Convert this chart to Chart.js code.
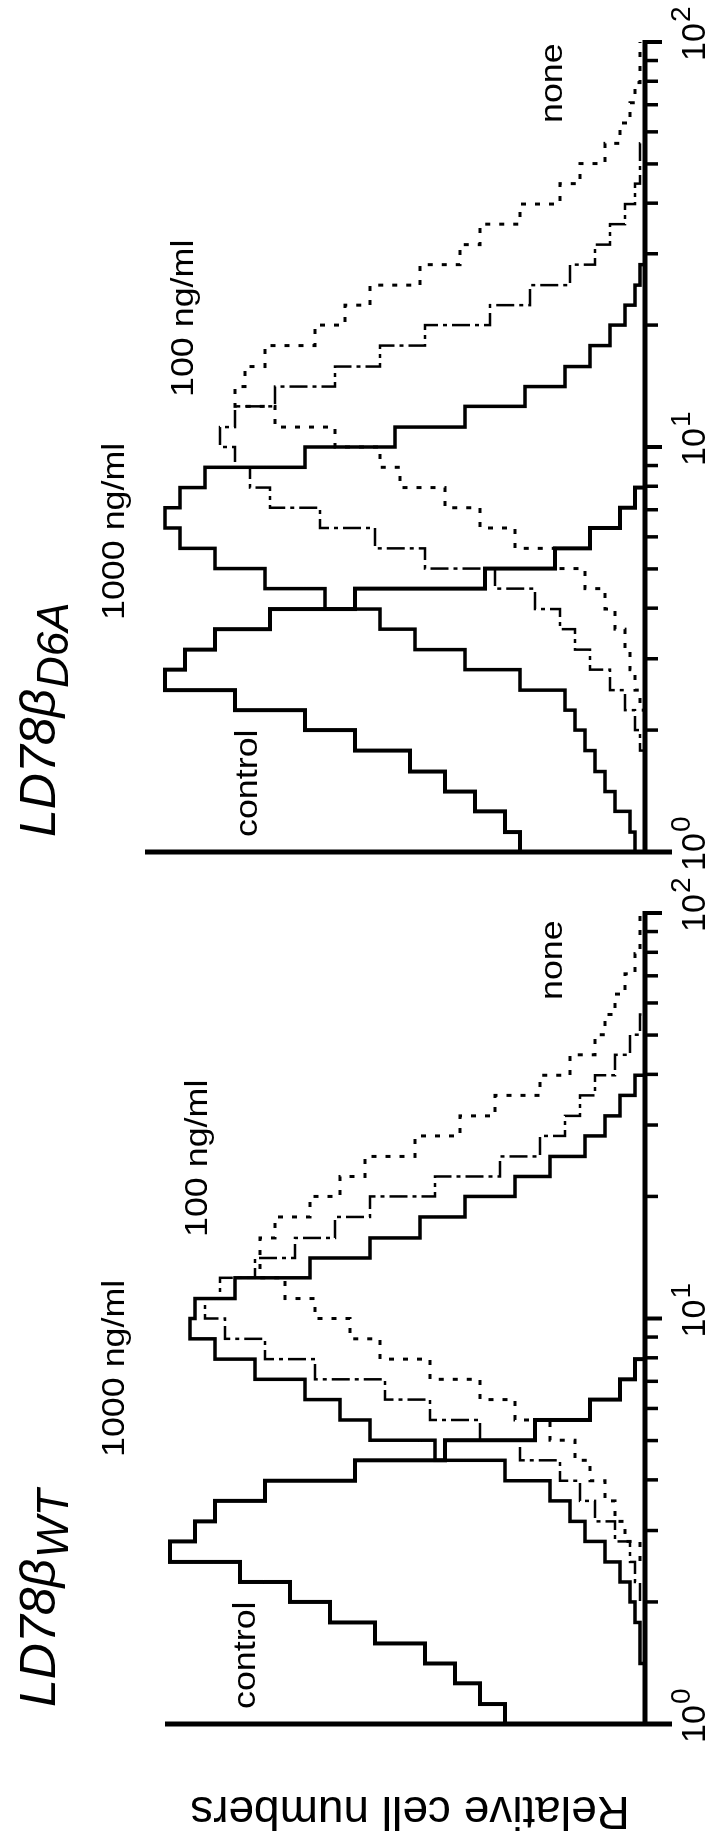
<!DOCTYPE html>
<html>
<head>
<meta charset="utf-8">
<script src="https://cdn.jsdelivr.net/npm/chart.js@4.4.1/dist/chart.umd.min.js"></script>
<style>
  html, body { margin: 0; padding: 0; background: #fff; overflow: hidden; }
  /* the figure is laid out landscape and turned a quarter turn to the left */
  #fig { position: absolute; left: 0; top: 0; width: 1847px; height: 709px;
         transform-origin: 0 0; transform: translate(0, 1847px) rotate(-90deg); }
  #fig canvas { position: absolute; top: 0; }
</style>
</head>
<body>
<div id="fig">
  <canvas id="wt" width="990" height="709" style="left:0px"></canvas>
  <canvas id="d6a" width="907" height="709" style="left:940px"></canvas>
</div>
<script>
// fluorescence channels (left edge of each bin), shared by both panels
var channels = [1.00, 1.12, 1.26, 1.41, 1.58, 1.78, 2.00, 2.24, 2.51, 2.82,
                3.16, 3.55, 3.98, 4.47, 5.01, 5.62, 6.31, 7.08, 7.94, 8.91,
                10.0, 11.2, 12.6, 14.1, 15.8, 17.8, 20.0, 22.4, 25.1, 28.2,
                31.6, 35.5, 39.8, 44.7, 50.1, 56.2, 63.1, 70.8, 79.4, 89.1, 100];

var majorTicks = [1, 10, 100];
var tickExp = ['0', '1', '2'];
var minorTicks = [2, 3, 4, 5, 6, 7, 8, 9, 20, 30, 40, 50, 60, 70, 80, 90];

var seriesNames = ['control', '1000 ng/ml', '100 ng/ml', 'none'];

// LD78beta WT panel, relative cell numbers per bin
var wtControl = [22, 28, 33, 38, 44, 54, 63, 71, 81, 95, 90, 86, 76, 58, 40, 22, 11, 5, 2, 0,
                 0, 0, 0, 0, 0, 0, 0, 0, 0, 0, 0, 0, 0, 0, 0, 0, 0, 0, 0, 0];
var wt1000 = [0, 0, 0, 0, 1, 1, 2, 3, 5, 8, 12, 15, 19, 28, 42, 55, 61, 68, 78, 86,
              91, 90, 82, 67, 55, 45, 36, 26, 19, 12, 8, 5, 2, 0, 0, 0, 0, 0, 0, 0];
var wt100 = [0, 0, 0, 0, 0, 0, 0, 1, 2, 3, 6, 10, 13, 17, 25, 33, 43, 52, 66, 76,
             84, 88, 85, 78, 70, 62, 55, 42, 29, 21, 16, 13, 10, 6, 3, 1, 0, 0, 0, 0];
var wtNone = [0, 0, 0, 0, 0, 0, 0, 0, 0, 1, 4, 6, 8, 11, 14, 19, 26, 33, 43, 53,
              59, 66, 72, 77, 77, 74, 67, 61, 56, 46, 37, 30, 21, 15, 10, 8, 6, 4, 2, 1];

// LD78beta D6A panel
var d6aControl = [22, 25, 28, 34, 40, 47, 58, 68, 82, 96, 92, 86, 75, 58, 32, 18, 11, 5, 2, 0,
                  0, 0, 0, 0, 0, 0, 0, 0, 0, 0, 0, 0, 0, 0, 0, 0, 0, 0, 0, 0];
var d6a1000 = [2, 2, 3, 6, 8, 10, 12, 14, 16, 25, 36, 46, 53, 64, 76, 86, 93, 96, 93, 88,
               68, 50, 36, 24, 16, 11, 7, 4, 2, 1, 0, 0, 0, 0, 0, 0, 0, 0, 0, 0];
var d6a100 = [0, 0, 0, 0, 0, 0, 1, 2, 4, 7, 11, 14, 17, 22, 30, 44, 54, 65, 75, 79,
              82, 85, 82, 74, 62, 53, 44, 31, 23, 15, 10, 7, 4, 2, 1, 1, 0, 0, 0, 0];
var d6aNone = [0, 0, 0, 0, 0, 0, 0, 0, 1, 2, 3, 4, 6, 8, 12, 18, 26, 33, 40, 49,
               53, 62, 74, 82, 80, 76, 66, 60, 55, 45, 37, 33, 25, 17, 13, 8, 5, 3, 2, 1];

var lineStyles = [
  { width: 4, dash: [] },
  { width: 3.5, dash: [] },
  { width: 2.5, dash: [18, 5, 4, 5] },
  { width: 3, dash: [5, 9] }
];

function steps(counts) {
  return channels.map(function (c, i) {
    return { x: c, y: i < counts.length ? counts[i] : counts[counts.length - 1] };
  });
}

function stretchText(ctx, txt, x, y, sx) {
  ctx.save();
  ctx.translate(x, y);
  ctx.scale(sx, 1);
  ctx.fillText(txt, 0, 0);
  ctx.restore();
}

function decorPlugin(d) {
  return {
    id: 'decor',
    afterDraw: function (chart) {
      var ctx = chart.ctx, xs = chart.scales.x, ys = chart.scales.y;
      var x0 = xs.getPixelForValue(1), x1 = xs.getPixelForValue(100);
      var yb = ys.getPixelForValue(0);
      ctx.save();
      ctx.fillStyle = '#000';
      ctx.strokeStyle = '#000';
      ctx.lineCap = 'butt';

      // baseline (fluorescence axis)
      ctx.lineWidth = 5;
      ctx.beginPath();
      ctx.moveTo(x0, yb);
      ctx.lineTo(x1 + 2, yb);
      ctx.stroke();
      // cell number axis
      ctx.beginPath();
      ctx.moveTo(x0, ys.getPixelForValue(d.axisTop));
      ctx.lineTo(x0, yb + 27);
      ctx.stroke();

      // ticks
      ctx.lineWidth = 3.5;
      minorTicks.forEach(function (v) {
        var p = xs.getPixelForValue(v);
        ctx.beginPath(); ctx.moveTo(p, yb); ctx.lineTo(p, yb + 13); ctx.stroke();
      });
      ctx.lineWidth = 4;
      majorTicks.forEach(function (v, i) {
        var p = xs.getPixelForValue(v);
        if (i > 0) { ctx.beginPath(); ctx.moveTo(p, yb); ctx.lineTo(p, yb + 17); ctx.stroke(); }
        ctx.textAlign = 'left';
        ctx.textBaseline = 'alphabetic';
        ctx.font = '34px "Liberation Sans", Arial, sans-serif';
        var w = ctx.measureText('10').width;
        ctx.fillText('10', p - w / 2, yb + 60);
        ctx.font = '28px "Liberation Sans", Arial, sans-serif';
        ctx.fillText(tickExp[i], p + w / 2 + 1, yb + 45);
      });

      // curve labels
      ctx.font = '32px "Liberation Sans", Arial, sans-serif';
      d.labels.forEach(function (l, i) {
        stretchText(ctx, seriesNames[i], l[0], l[1], 1.12);
      });

      // panel title
      ctx.font = 'italic 50px "Liberation Sans", Arial, sans-serif';
      ctx.fillText('LD78\u03b2', d.title[0], d.title[1]);
      var tw = ctx.measureText('LD78\u03b2').width;
      ctx.font = 'italic 44px "Liberation Sans", Arial, sans-serif';
      ctx.fillText(d.sub, d.title[0] + tw + 1, d.title[1] + 13);

      if (d.yLabel) {
        ctx.font = '46px "Liberation Sans", Arial, sans-serif';
        ctx.textAlign = 'center';
        ctx.translate(50, 410);
        ctx.rotate(-Math.PI / 2);
        ctx.fillText(d.yLabel, 0, 0);
      }
      ctx.restore();
    }
  };
}

function makeChart(id, counts, d) {
  var sets = [];
  for (var i = counts.length - 1; i >= 0; i--) {
    sets.push({
      label: seriesNames[i],
      data: steps(counts[i]),
      stepped: 'after',
      borderColor: '#000',
      borderWidth: lineStyles[i].width,
      borderDash: lineStyles[i].dash,
      borderJoinStyle: 'miter',
      borderCapStyle: 'butt',
      pointRadius: 0,
      fill: false,
      clip: 4
    });
  }
  return new Chart(document.getElementById(id), {
    type: 'line',
    data: { datasets: sets },
    options: {
      responsive: false,
      animation: false,
      events: [],
      layout: { padding: d.pad },
      plugins: { legend: { display: false }, tooltip: { enabled: false } },
      scales: {
        x: { type: 'logarithmic', min: 1, max: 100, display: false },
        y: { type: 'linear', min: 0, max: 100, display: false }
      }
    },
    plugins: [decorPlugin(d)]
  });
}

makeChart('wt', [wtControl, wt1000, wt100, wtNone], {
  pad: { left: 123, right: 56, top: 145, bottom: 64 },
  axisTop: 96,
  labels: [[138, 255], [390, 124], [610, 207], [847, 562]],
  title: [140, 55],
  sub: 'WT',
  yLabel: 'Relative cell numbers'
});

makeChart('d6a', [d6aControl, d6a1000, d6a100, d6aNone], {
  pad: { left: 55, right: 42, top: 145, bottom: 64 },
  axisTop: 100,
  labels: [[70, 257], [287, 124], [510, 193], [784, 562]],
  title: [70, 55],
  sub: 'D6A'
});
</script>
</body>
</html>
